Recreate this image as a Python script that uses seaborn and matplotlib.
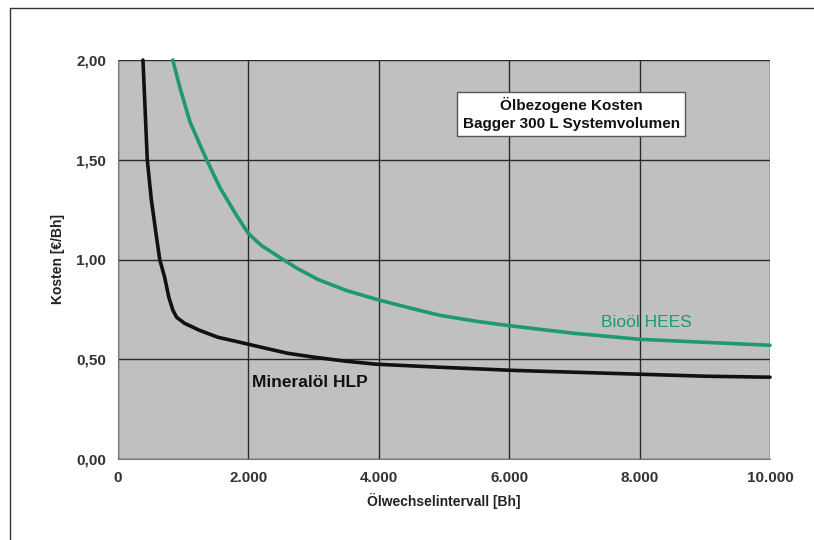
import numpy as np
import pandas as pd
import matplotlib
matplotlib.use("Agg")
import matplotlib.pyplot as plt
import seaborn as sns
from matplotlib.ticker import FuncFormatter, MultipleLocator
from matplotlib.lines import Line2D

# Data
mineral_x = [383, 420, 449, 480, 511, 562, 600, 640, 716, 780, 843, 900, 1022, 1250, 1534, 1871,
             2200, 2600, 3016, 3500, 3967, 4939, 6000, 6472, 7000, 8000, 9000, 10000]
mineral_y = [2.00, 1.72, 1.50, 1.40, 1.30, 1.18, 1.09, 1.00, 0.91, 0.81, 0.745, 0.71, 0.68, 0.645, 0.61, 0.585,
             0.56, 0.53, 0.51, 0.49, 0.475, 0.46, 0.445, 0.44, 0.435, 0.425, 0.415, 0.41]
bio_x = [840, 951, 1104, 1250, 1359, 1564, 1820, 2000, 2200, 2485, 2750, 3067, 3500, 3967,
         4500, 4939, 5500, 5962, 6472, 7000, 8000, 9000, 10000]
bio_y = [2.00, 1.86, 1.69, 1.58, 1.50, 1.36, 1.22, 1.13, 1.07, 1.01, 0.955, 0.90, 0.845, 0.80,
         0.755, 0.72, 0.69, 0.67, 0.65, 0.63, 0.60, 0.585, 0.57]

x_ticks = [0, 2000, 4000, 6000, 8000, 10000]
y_ticks = [0.0, 0.5, 1.0, 1.5, 2.0]

df = pd.concat([
    pd.DataFrame({"x": mineral_x, "y": mineral_y, "s": "Mineralöl HLP"}),
    pd.DataFrame({"x": bio_x, "y": bio_y, "s": "Bioöl HEES"}),
])

sns.set_style("white")
plt.rcParams['font.family'] = ['Liberation Sans', 'DejaVu Sans']

fig = plt.figure(figsize=(8.14, 5.4), dpi=100)
ax = fig.add_axes([118/814, 1-459/540, (770-118)/814, (459-60)/540])
ax.set_facecolor("#c0c0c0")

sns.lineplot(data=df, x="x", y="y", hue="s", palette={"Mineralöl HLP": "#111111", "Bioöl HEES": "#1f9a6a"},
             linewidth=2.6, legend=False, ax=ax, sort=False)
for ln in ax.lines:
    ln.set_solid_joinstyle("round")
    ln.set_clip_on(False)

ax.set_xlim(0, 10000)
ax.set_ylim(0, 2.0)
ax.set_xticks(x_ticks)
ax.set_yticks(y_ticks)
ax.xaxis.set_minor_locator(MultipleLocator(1000))
ax.xaxis.set_major_formatter(FuncFormatter(lambda v, p: f"{int(v):,}".replace(",", ".")))
ax.yaxis.set_major_formatter(FuncFormatter(lambda v, p: f"{v:.2f}".replace(".", ",")))
ax.grid(True, which="major", color="#2a2a2a", linewidth=1.0)
ax.set_axisbelow(True)
for side in ["top", "right"]:
    ax.spines[side].set_visible(False)
ax.spines["left"].set_color("#7a7a7a")
ax.spines["bottom"].set_color("#7a7a7a")
ax.tick_params(axis="both", which="major", direction="out", length=5, color="#555555",
               labelsize=11, labelcolor="#333333")
ax.tick_params(axis="x", which="minor", direction="out", length=3, color="#555555")
for lab in ax.get_xticklabels() + ax.get_yticklabels():
    lab.set_fontweight("bold")

ax.set_xlabel("Ölwechselintervall [Bh]", fontsize=10, fontweight="bold", color="#222222", labelpad=6)
ax.set_ylabel("Kosten [€/Bh]", fontsize=10, fontweight="bold", color="#222222", labelpad=8)

ax.text(6950, 1.73, "Ölbezogene Kosten\nBagger 300 L Systemvolumen", ha="center", va="center",
        fontsize=11, fontweight="bold", color="#111111", linespacing=1.3,
        bbox=dict(boxstyle="square,pad=0.35", facecolor="white", edgecolor="#555555", linewidth=1))
ax.text(2945, 0.385, "Mineralöl HLP", ha="center", va="center", fontsize=12.5,
        fontweight="bold", color="#111111")
ax.text(8100, 0.685, "Bioöl HEES", ha="center", va="center", fontsize=12.5,
        color="#1f9a6a")

# figure frame (left and top edges)
fig.add_artist(Line2D([10/814, 10/814], [0, 1-8/540], transform=fig.transFigure, color="#333333", lw=1))
fig.add_artist(Line2D([10/814, 1], [1-8/540, 1-8/540], transform=fig.transFigure, color="#333333", lw=1))

fig.savefig("out.png", dpi=100)
